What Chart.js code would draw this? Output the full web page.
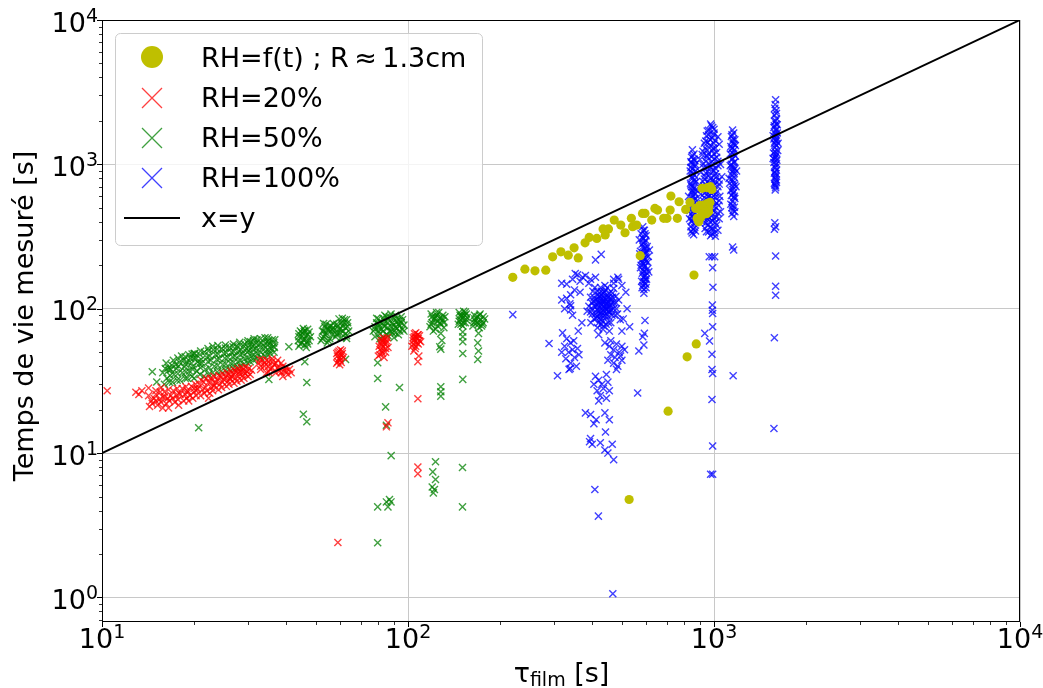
<!DOCTYPE html>
<html>
<head>
<meta charset="utf-8">
<script src="https://cdn.jsdelivr.net/npm/chart.js@4.4.1/dist/chart.umd.min.js"></script>
<style>
  body { margin: 0; background: #fff; }
  canvas { display: block; }
</style>
</head>
<body>
<canvas id="chart" width="1043" height="688"></canvas>
<script>
// Axis ranges and ticks
const xRange = [10, 10000];
const yRange = [0.676, 10000];
const xMajorTicks = [10, 100, 1000, 10000];
const yMajorTicks = [1, 10, 100, 1000, 10000];

// x=y reference line
const lineX = [10, 10000];

// RH=f(t) ; R ~ 1.3cm (yellow circles)
const yellowPts = [
  [220,165],[241,188],[260,183],[282,185],[297,229],[316,248],[334,235],[349,264],[360,225],[379,286],
  [391,312],[414,307],[434,357],[452,357],[441,324],[472,411],[496,380],[512,336],[537,423],[542,370],
  [559,380],[574,233],[584,457],[595,457],[626,411],[641,495],[654,482],[685,423],[702,423],[719,482],
  [723,603],[759,423],[769,551],[808,487],[835,546],[860,171],[875,57],[817,46.4],[708,19.5],[528,4.77],
  [914,682],[951,690],[973,700],[984,671],[871,495],[904,482],[927,523],[951,536],[938,470],[914,446],
  [891,400],[881,423],[960,505],[945,455],[925,490],[905,430],[970,545],[900,520],[960,470]
];

// RH=20% (red crosses)
const redPts = [
  // main band
  [14.3,21],[14.5,23],[14.2,25],[15.2,21.5],[15.4,23.5],[15,25.5],[16.2,22],[16.4,24],[16,26.5],
  [17.3,22.5],[17.5,25],[17.1,27],[18.5,23],[18.7,25.5],[18.3,28],[19.8,24],[20,26.5],[19.6,29],
  [21,25],[21.3,27.5],[20.8,30],[21.1,32],[22.5,26],[22.8,28.5],[22.3,31],[22.6,33],
  [24,27.5],[24.3,30],[23.8,32.5],[24.1,34.5],[25.5,29],[25.8,31.5],[25.3,34],[25.6,36],
  [27,30.5],[27.3,33],[26.8,35.5],[27.1,37.5],[28.5,32],[28.8,34.5],[28.3,37],[28.6,39],
  [30,34],[29.8,36.5],[30.2,38.5],[15.8,20.5],[17.8,21.5],[19.2,23],[20.5,28],[23.2,29],[26.2,33],
  [16.5,20.5],[22.3,24],[13.5,27],
  [14.6,22],[14.8,24],[15.6,22.5],[15.8,24.5],[15.5,26.5],[16.6,23],[16.8,25],[16.5,27.5],[17.7,23.5],
  [17.9,26],[17.6,28],[18.9,24],[19.1,26.5],[18.8,28.8],[19.4,25],[20.3,25],[20.5,27.5],[20.2,30],
  [21.6,26],[21.8,28.5],[21.5,31],[21.9,33],[23,27],[23.3,29.5],[22.9,32],[23.2,34],[24.6,28.5],
  [24.8,31],[24.5,33.5],[24.8,35.5],[26,30],[26.3,32.5],[26,35],[26.4,37],[27.6,31.5],[27.9,34],
  [27.5,36.5],[27.8,38.5],[29.1,33],[29.4,35.5],[29,38],[29.5,39.5],[30.5,35],[30.8,37.5],[15,23],
  [16,24.5],[17,24],[18,25.5],[19,27],[20,28],[22,27],[23.5,31],[25,32.5],[26.5,34],[28,36],[29,36.5],
  // cluster near 35 s
  [32.5,42],[33.5,44],[34,40],[35,43],[35.5,38],[36.5,41],[37,36],[38,39],[38.5,42],[39.5,37],
  [40.5,35],[41,38],[33,38],[36,45],[39,34],[37.5,44],[34.5,36],
  [33,40],[34,42],[35,40],[36,39],[37,42],[38,37],[39,40],[40,37],[36,43],[35,36.5],[37.5,39],
  [38.5,36],[34.5,44],[32.8,44.5],[40,39],[41.5,36],
  // column near 60 s
  [58.5,42],[59.5,45],[60.5,48],[61,51],[59,50],[60,44],[61.5,46],[58.8,47],[60.2,52],[59.8,41],
  [59,43],[60,46],[61,49],[59.5,51],[60.5,42.5],[58.5,49],
  // column near 83 s
  [80,47],[81,52],[82,56],[83,60],[84,62],[85,58],[86,54],[82.5,49],[84.5,50],[81.5,58],[83.5,46],[85.5,63],
  [81,48],[82,51],[83,54],[84,57],[85,60],[82,60],[83,63],[84.5,53],[80.5,55],
  // column near 106 s
  [103,55],[104,60],[105,64],[106,68],[107,62],[108,57],[109,65],[110,59],[105.5,53],[107.5,66],
  [104.5,51],[108.5,47],[107.7,43],
  [104,57],[105,61],[106,64],[107,58],[108,62],[109,60],[106,55],[105,67],[108,66],[104,63],
  // outliers
  [10.4,27],[12.9,26.4],[13.2,25.5],[14.2,28.2],[15,27],[15.6,28.5],[59,2.4],[85,15.2],[86,16.2],
  [107.7,23.8],[107.7,8.0],[107.7,7.2]
];

// RH=50% (green crosses)
const greenPts = [
  // main band
  [16,30],[16.3,33],[15.8,36],[16.5,39],[16.2,42],[17,31],[17.2,35],[16.8,38],[17.4,41],[17.1,44],
  [18,32],[18.3,36],[17.8,40],[18.5,44],[18.2,47],[19,33],[19.3,37],[18.8,41],[19.5,45],[19.2,48],
  [20,33],[20.4,37],[19.8,40],[20.6,43],[20.2,46],[20,49],[21.5,34],[21.8,38],[21.2,42],[22,46],[21.6,50],
  [23,36],[23.3,40],[22.7,44],[23.5,48],[23.1,52],[23,55],[24.5,37],[24.8,41],[24.2,45],[25,49],[24.6,53],
  [26,38],[26.3,42],[25.8,46],[26.5,50],[26.1,54],[27.5,39],[27.8,43],[27.2,47],[28,51],[27.6,55],
  [29,41],[29.3,45],[28.8,49],[29.6,53],[29.2,57],[30.5,43],[30.8,47],[30.2,51],[31,55],[30.6,59],
  [32,45],[32.3,49],[31.8,53],[32.6,57],[32.1,61],[34,47],[34.3,51],[33.8,55],[34.6,59],[34.1,63],
  [35.5,49],[35.8,53],[35.2,57],[36,61],[36.3,55],
  [16.6,31],[16.7,34.5],[16.5,37.5],[16.9,40.5],[17.6,32],[17.7,35.5],[17.5,38.5],[17.9,42.5],[17.7,45.5],
  [18.7,33],[18.8,36.5],[18.6,39.5],[18.9,43],[18.7,46.5],[19.7,34],[19.8,38],[19.6,42],[19.9,45.5],
  [19.7,48.5],[20.9,35],[21,39],[20.8,41.5],[21.1,44.5],[20.9,48],[21,51],[22.3,35],[22.4,39],[22.2,43],
  [22.5,47],[22.3,51],[22.2,53],[23.8,36.5],[23.9,40.5],[23.7,44.5],[24,48.5],[23.8,52.5],[23.9,55.5],
  [25.3,37.5],[25.4,41.5],[25.2,45.5],[25.5,49.5],[25.3,53.5],[25.3,56],[26.8,38.5],[26.9,42.5],
  [26.7,46.5],[27,50.5],[26.8,54.5],[26.9,57],[28.3,40],[28.4,44],[28.2,48],[28.5,52],[28.3,56],
  [28.2,58.5],[29.9,42],[30,46],[29.8,50],[30.1,54],[29.9,58],[30,60],[31.3,44],[31.4,48],[31.2,52],
  [31.5,56],[31.3,60],[31.4,62],[33,46],[33.1,50],[32.9,54],[33.2,58],[33,62],[34.8,48],[34.9,52],
  [34.7,56],[35,60],[34.8,63],[36.5,50],[36.6,54],[36.4,58],[36.7,61],
  // column near 46 s
  [44,55],[45,58],[46,62],[47,66],[44.5,70],[45.5,73],[46.5,54],[47.5,60],[44,64],[45,68],[46,71],
  [47,57],[48,64],[43.8,60],
  [44.5,57],[45.5,61],[46.5,65],[47.5,69],[45,64.5],[46,56],[47,72],[44,67],[45.8,69.5],[46.8,59],
  // column near 54 s
  [52,60],[53,64],[54,68],[55,72],[56,76],[57,79],[52.5,70],[53.5,75],[54.5,58],[55.5,62],[56.5,66],
  [53,79],[57,70],
  [52.5,62],[53.5,66],[54.5,72],[55.5,76],[56.5,72],[54,78],[55,60],[56,70],[53,70],[57,74],
  // column near 61 s
  [58,64],[59,68],[60,72],[61,76],[62,80],[63,84],[64,70],[58.5,78],[59.5,85],[60.5,63],[62.5,67],
  [63.5,75],[61,86],
  [58.5,66],[59.5,72],[60.5,80],[61.5,70],[62.5,74],[63.5,80],[60,68],[62,84],[59,76],[63,65],
  // cluster near 87 s
  [77,70],[78,75],[79,80],[80,85],[81,67],[82,72],[83,77],[84,82],[85,88],[86,65],[87,70],[88,75],
  [89,80],[90,85],[91,68],[92,73],[93,78],[94,83],[95,88],[96,72],[97,77],[78,64],[84,90],[90,63],
  [88,92],[80,78],[86,80],[92,86],[94,70],[82,62],
  [78,72],[80,74],[82,80],[84,76],[86,84],[88,70],[90,77],[92,82],[94,76],[96,84],[79,86],[83,86],
  [87,88],[91,90],[95,80],[81,62],[85,66],[89,68],[93,66],[97,70],[80,70],[86,74],[91,74],[83,70],
  // column near 125 s
  [118,75],[120,80],[122,85],[124,90],[126,94],[128,78],[130,83],[132,88],[119,92],[123,72],[127,86],
  [131,74],[125,82],[121,70],[128,67.5],[129,60.3],[128,52.5],[127,54.5],[128,28.8],[128,26.6],[128,24.8],
  [119,78],[121,84],[123,88],[125,76],[127,80],[129,86],[131,80],[124,94],[120,88],[130,90],
  // column near 150 s
  [146,78],[148,84],[150,90],[152,96],[154,80],[156,87],[147,94],[151,76],[155,92],[149,88],
  [151,69],[151,64],[151,59],[151,49],[151,32.4],
  [147,82],[149,78],[151,86],[153,90],[155,84],[148,90],[152,80],[154,95],
  // column near 170 s
  [163,76],[166,82],[169,88],[172,92],[175,78],[178,85],[165,90],[171,74],[176,88],[168,80],
  [170,67.5],[169,58],[170,51],[169,44.6],
  [164,80],[167,86],[170,78],[173,84],[176,80],[165,85],[171,90],[174,76],
  // outliers
  [14.6,36.6],[16.1,38.5],[15.1,31.1],[20.7,15],[20.1,49],[40.8,54.5],[35.1,32.4],[46,42.9],[46.7,30.8],
  [45.5,18.6],[46.7,16.5],[62.5,44.6],[63,62.2],[79.6,42.2],[79.6,32.9],[93.8,28.5],[84.5,20.9],[85,15.6],
  [88.1,9.6],[123,8.7],[150.7,7.94],[120.5,7.41],[123,6.56],[120,5.83],[122,5.6],[121,5.3],[87,4.77],
  [85,4.59],[88,4.59],[86,4.24],[79.6,4.24],[150.7,4.24],[79.6,2.39]
];

// RH=100% (blue crosses)
const bluePts = [
  // dense cluster near 430 s
  [430,106],[440,100],[420,110],[450,112],[415,98],[435,120],[445,92],[425,88],[455,104],[410,115],
  [438,130],[428,95],[462,98],[405,105],[448,125],[418,125],[432,82],[452,88],[470,110],[400,92],
  [442,108],[422,102],[436,114],[458,118],[412,86],[426,140],[466,128],[395,120],[444,78],[480,100],
  [402,132],[416,74],[474,90],[390,104],[460,80],[434,72],[488,115],[385,96],[448,140],[408,140],
  [470,138],[420,66],[455,70],[494,84],[396,80],[440,145],[430,125],[445,116],[425,118],[437,90],
  [415,132],[455,95],[462,110],[398,110],[405,85],[478,122],[428,78],[450,100],[438,104],[422,92],
  [432,100],[446,104],[424,114],[452,96],[418,106],[440,112],[436,96],[428,108],[444,88],[458,106],
  [412,104],[420,96],[450,120],[434,128],[426,84],[464,90],[406,120],[442,134],[416,116],[456,128],
  [400,100],[470,100],[430,90],[438,118],[448,108],[422,122],[410,92],[460,115],[428,132],[436,76],
  [452,80],[415,88],[445,98],[432,112],[420,80],[466,120],[404,112],[478,110],[395,95],[484,92],
  [318,150],[330,148],[345,160],[358,172],[372,165],[350,135],[340,125],[330,118],[325,100],[338,108],
  [365,155],[380,170],[395,160],[410,165],[470,150],[500,145],[485,165],[515,130],[520,100],[505,85],
  [530,75],[500,70],[370,80],[360,70],[345,90],[488,160],[365,130],[352,175],[390,150],[470,160],
  [318,115],[340,105],[340,98],[410,218],[428,238],
  // left sub-cluster
  [320,68],[330,62],[340,58],[325,55],[335,50],[345,52],[350,46],[328,45],[340,42],[355,40],[362,48],
  [318,50],[336,38],[348,60],[358,53],[339,38.5],
  // lower right sub-cluster
  [440,58],[455,55],[470,52],[480,57],[460,48],[475,46],[490,50],[500,44],[450,44],[485,40],[470,42],
  [500,55],[460,60],[495,47],[480,38],[510,52],
  // lower tail
  [410,34],[420,32],[430,30],[415,27],[425,25],[435,28],[420,23],[405,30],[445,35],[450,31],[455,27],
  [445,24],[380,19],[395,18.5],[412,17],[405,16],[440,19],[455,17],[442,14],[392,12],[400,11.5],
  [425,11.8],[440,10.5],[450,10],[465,11.5],[470,9],[395,12.6],
  [220,91],[289,57.5],[308,34.3],[408,5.6],[419,3.66],[467,1.06],[563,26.1],
  // column near 590 s
  [585,370],[592,350],[578,330],[600,320],[588,305],[595,290],[582,280],[605,270],[590,262],[575,250],
  [598,245],[585,238],[610,230],[592,225],[580,218],[600,212],[588,205],[596,198],[575,192],[605,188],
  [590,182],[583,176],[598,170],[588,165],[602,160],[580,155],[594,150],[585,145],[600,140],[590,136],
  [578,200],[608,210],[572,240],[615,255],[570,300],[612,180],[590,128],[596,160],[583,232],[600,260],
  [588,350],[595,330],[584,310],[598,298],[590,285],[586,270],[600,250],[593,240],[587,222],[597,220],
  [582,210],[592,195],[600,178],[586,185],[594,168],[590,155],[582,140],[598,148],
  [595,83],[592,67.5],[585,64],[590,56],[568,51],
  // column near 855 s
  [850,1260],[860,1180],[845,1120],[865,1060],[852,1000],[840,950],[870,900],[855,860],[848,820],[862,780],
  [838,740],[858,700],[872,670],[845,640],[855,610],[866,580],[842,555],[852,530],[860,505],[835,480],
  [868,460],[850,440],[858,420],[845,400],[862,385],[840,370],[855,355],[870,345],[848,335],[858,325],
  [836,900],[868,1000],[826,600],[880,560],[832,420],[876,760],[846,700],[862,640],[854,470],[840,1040],
  [850,1150],[860,1090],[845,1030],[865,970],[852,930],[845,880],[862,840],[850,800],[866,750],[840,720],
  [858,680],[850,660],[868,620],[845,590],[858,560],[850,515],[866,490],[842,455],[856,430],[848,410],
  [865,365],[842,345],
  // column near 980 s
  [975,1900],[990,1800],[960,1720],[1000,1650],[945,1580],[985,1520],[1010,1460],[930,1400],[970,1350],
  [995,1300],[950,1250],[1020,1210],[915,1170],[980,1130],[1005,1090],[940,1050],[965,1010],[1030,980],
  [925,950],[990,920],[955,890],[1012,860],[935,830],[975,800],[1040,780],[920,760],[960,740],[1000,715],
  [945,690],[985,670],[1025,650],[930,630],[970,610],[1008,590],[950,570],[990,550],[915,535],[1035,520],
  [960,505],[940,490],[1000,475],[975,460],[925,445],[1015,430],[955,418],[990,405],[940,392],[1020,380],
  [970,368],[1000,355],[945,342],[985,330],[1010,318],[960,1600],[1040,1380],[920,1230],[1000,1180],
  [950,1120],[1050,1000],[900,1080],[985,1050],[1010,940],[905,880],[1060,820],[940,720],[1000,830],
  [1030,700],[910,680],[1045,600],[980,580],[925,560],[1050,470],[905,620],[935,520],[1020,540],[960,430],
  [915,400],[1040,420],[995,480],[965,650],[1010,1300],[940,1450],[1030,1550],[1000,1750],
  [980,1850],[950,1700],[1000,1600],[970,1480],[955,1420],[1000,1400],[985,1250],[935,1300],[960,1180],
  [1020,1120],[945,1150],[990,1000],[1030,1050],[920,1000],[975,960],[950,950],[1000,900],[940,870],
  [965,840],[1020,820],[930,790],[990,770],[955,760],[1010,760],[975,730],[925,710],[1040,730],[960,690],
  [990,640],[945,650],[1010,620],[960,600],[930,590],[985,560],[1040,560],[950,540],[1005,510],[970,495],
  [930,480],[1030,460],[985,440],[950,440],[1000,420],[930,420],[970,400],[1010,395],[955,380],[985,360],
  [935,360],[1030,350],[960,340],[1005,335],[975,320],
  [965,229],[985,229],[1005,229],[990,192],[992,141],[988,106],[988,97.7],[990,92.7],[990,75],[933,67.5],
  [967,59.7],[985,48.4],[985,37.9],[990,35.6],[985,23.5],[990,11.2],[975,7.14],[990,7.14],
  // column near 1150 s
  [1150,1730],[1160,1650],[1140,1560],[1170,1480],[1155,1400],[1135,1330],[1165,1260],[1150,1200],
  [1175,1140],[1145,1080],[1160,1030],[1130,980],[1170,930],[1150,890],[1140,850],[1165,810],[1155,770],
  [1125,740],[1180,700],[1150,670],[1160,640],[1140,610],[1170,580],[1150,555],[1135,530],[1165,505],
  [1155,480],[1145,455],[1160,435],[1175,1350],[1130,1180],[1185,900],[1120,800],[1145,1600],[1165,600],
  [1155,1500],[1140,1000],[1170,720],[1150,1300],[1160,950],
  [1150,1450],[1165,1380],[1140,1280],[1160,1180],[1150,1100],[1170,1040],[1145,960],[1155,910],
  [1165,860],[1140,790],[1160,740],[1150,700],[1135,660],[1160,590],[1150,520],[1170,470],[1145,500],
  [1155,630],
  [1150,268],[1160,255],[1155,34.3],
  // column near 1590 s
  [1590,2800],[1585,2600],[1595,2350],[1575,2200],[1600,2080],[1580,1980],[1610,1880],[1570,1800],
  [1595,1720],[1585,1650],[1560,1580],[1605,1520],[1590,1460],[1575,1400],[1600,1350],[1580,1300],
  [1615,1250],[1565,1200],[1595,1160],[1585,1110],[1605,1070],[1570,1030],[1590,990],[1580,950],
  [1600,910],[1575,870],[1590,830],[1585,790],[1600,750],[1580,720],[1590,690],[1585,665],[1570,1500],
  [1610,1650],[1560,1100],[1620,1400],[1595,1900],
  [1580,2450],[1600,2250],[1590,2000],[1575,1850],[1600,1750],[1590,1600],[1580,1550],[1600,1450],
  [1590,1380],[1580,1230],[1600,1200],[1590,1130],[1575,1080],[1600,1010],[1590,950],[1580,890],
  [1595,860],[1585,810],[1600,780],[1575,740],[1590,710],
  [1580,394],[1590,370],[1575,355],[1590,232],[1590,143],[1590,124],[1575,63],[1570,14.8]
];

const FONT = '"DejaVu Sans", sans-serif';
const toXY = pts => pts.map(([x, y]) => ({ x: x, y: y }));

// Draw spines, ticks, tick labels, axis titles and legend
const overlay = {
  id: 'overlay',
  afterDraw(chart) {
    const ctx = chart.ctx;
    const a = chart.chartArea;
    const xs = chart.scales.x;
    const ys = chart.scales.y;
    ctx.save();

    // spines
    ctx.strokeStyle = '#000';
    ctx.lineWidth = 1;
    ctx.strokeRect(a.left + 0.5, a.top + 0.5, a.right - a.left - 1, a.bottom - a.top - 1);

    // ticks
    function tickX(v, len) {
      const px = Math.round(xs.getPixelForValue(v)) + 0.5;
      ctx.beginPath(); ctx.moveTo(px, a.bottom); ctx.lineTo(px, a.bottom + len); ctx.stroke();
    }
    function tickY(v, len) {
      const py = Math.round(ys.getPixelForValue(v)) + 0.5;
      ctx.beginPath(); ctx.moveTo(a.left, py); ctx.lineTo(a.left - len, py); ctx.stroke();
    }
    ctx.lineWidth = 1;
    xMajorTicks.forEach(v => tickX(v, 5));
    yMajorTicks.forEach(v => tickY(v, 5));
    ctx.lineWidth = 0.8;
    for (let e = -1; e <= 3; e++) {
      for (let k = 2; k <= 9; k++) {
        const v = k * Math.pow(10, e);
        if (v >= xRange[0] && v <= xRange[1]) tickX(v, 3);
        if (v >= yRange[0] && v <= yRange[1]) tickY(v, 3);
      }
    }

    // tick labels 10^n
    function pow10(exp, x, base, align) {
      ctx.font = '27px ' + FONT;
      const w1 = ctx.measureText('10').width;
      ctx.font = '19px ' + FONT;
      const w2 = ctx.measureText(String(exp)).width;
      const sx = align === 'center' ? x - (w1 + w2) / 2 : x - (w1 + w2);
      ctx.fillStyle = '#000';
      ctx.textAlign = 'left';
      ctx.textBaseline = 'alphabetic';
      ctx.font = '27px ' + FONT;
      ctx.fillText('10', sx, base);
      ctx.font = '19px ' + FONT;
      ctx.fillText(String(exp), sx + w1, base - 10);
    }
    xMajorTicks.forEach(v => pow10(Math.round(Math.log10(v)), xs.getPixelForValue(v), 648, 'center'));
    yMajorTicks.forEach(v => pow10(Math.round(Math.log10(v)), 98, ys.getPixelForValue(v) + 11.5, 'right'));

    // y title
    ctx.save();
    ctx.translate(33, 316);
    ctx.rotate(-Math.PI / 2);
    ctx.font = '27px ' + FONT;
    ctx.textAlign = 'center';
    ctx.textBaseline = 'alphabetic';
    ctx.fillText('Temps de vie mesuré [s]', 0, 0);
    ctx.restore();

    // x title: tau_film [s]
    ctx.textAlign = 'left';
    ctx.font = '27px ' + FONT;
    const wt = ctx.measureText('τ').width;
    const ws = ctx.measureText(' [s]').width;
    ctx.font = '19px ' + FONT;
    const wf = ctx.measureText('film').width;
    let sx = 561.5 - (wt + wf + ws) / 2;
    ctx.font = '27px ' + FONT;
    ctx.fillText('τ', sx, 682);
    ctx.font = '19px ' + FONT;
    ctx.fillText('film', sx + wt, 686);
    ctx.font = '27px ' + FONT;
    ctx.fillText(' [s]', sx + wt + wf, 682);

    // legend
    ctx.beginPath();
    ctx.roundRect(115.5, 33.5, 367, 212, 5);
    ctx.fillStyle = 'rgba(255,255,255,0.8)';
    ctx.fill();
    ctx.strokeStyle = '#cccccc';
    ctx.lineWidth = 1;
    ctx.stroke();

    const mx = 152;
    ctx.fillStyle = '#bfbf00';
    ctx.beginPath(); ctx.arc(mx, 57, 11, 0, Math.PI * 2); ctx.fill();
    [['rgba(255,0,0,0.75)', 98], ['rgba(0,128,0,0.75)', 138], ['rgba(0,0,255,0.75)', 178]].forEach(([c, cy]) => {
      ctx.strokeStyle = c;
      ctx.lineWidth = 1.3;
      ctx.beginPath();
      ctx.moveTo(mx - 10, cy - 10); ctx.lineTo(mx + 10, cy + 10);
      ctx.moveTo(mx - 10, cy + 10); ctx.lineTo(mx + 10, cy - 10);
      ctx.stroke();
    });
    ctx.strokeStyle = '#000';
    ctx.lineWidth = 2;
    ctx.beginPath(); ctx.moveTo(124, 218); ctx.lineTo(180, 218); ctx.stroke();

    ctx.fillStyle = '#000';
    ctx.font = '27px ' + FONT;
    ctx.textAlign = 'left';
    ctx.textBaseline = 'alphabetic';
    const labels = ['RH=f(t) ; R\u2009≈\u20091.3cm', 'RH=20%', 'RH=50%', 'RH=100%', 'x=y'];
    labels.forEach((t, i) => ctx.fillText(t, 201, 66.7 + i * 40));

    ctx.restore();
  }
};

const crossStyle = (color, data, order) => ({
  data: toXY(data),
  pointStyle: 'crossRot',
  pointRadius: 5,
  pointHoverRadius: 5,
  borderColor: color,
  backgroundColor: color,
  pointBorderWidth: 1.4,
  order: order
});

new Chart(document.getElementById('chart'), {
  type: 'scatter',
  data: {
    datasets: [
      {
        data: lineX.map(v => ({ x: v, y: v })),
        showLine: true,
        borderColor: '#000',
        borderWidth: 2,
        pointRadius: 0,
        order: 0
      },
      {
        data: toXY(yellowPts),
        pointStyle: 'circle',
        pointRadius: 4.6,
        backgroundColor: '#bfbf00',
        borderColor: '#bfbf00',
        borderWidth: 0,
        order: 1
      },
      crossStyle('rgba(255,0,0,0.75)', redPts, 2),
      crossStyle('rgba(0,128,0,0.75)', greenPts, 3),
      crossStyle('rgba(0,0,255,0.75)', bluePts, 4)
    ]
  },
  options: {
    responsive: false,
    devicePixelRatio: 1,
    animation: false,
    layout: { padding: { left: 102, top: 20, right: 23, bottom: 66 } },
    plugins: { legend: { display: false }, tooltip: { enabled: false } },
    scales: {
      x: {
        type: 'logarithmic',
        min: xRange[0],
        max: xRange[1],
        afterBuildTicks: axis => { axis.ticks = xMajorTicks.map(v => ({ value: v })); },
        ticks: { display: false },
        grid: { color: '#c8c8c8', lineWidth: 1, drawTicks: false },
        border: { display: false }
      },
      y: {
        type: 'logarithmic',
        min: yRange[0],
        max: yRange[1],
        afterBuildTicks: axis => { axis.ticks = yMajorTicks.map(v => ({ value: v })); },
        ticks: { display: false },
        grid: { color: '#c8c8c8', lineWidth: 1, drawTicks: false },
        border: { display: false }
      }
    }
  },
  plugins: [overlay]
});
</script>
</body>
</html>
